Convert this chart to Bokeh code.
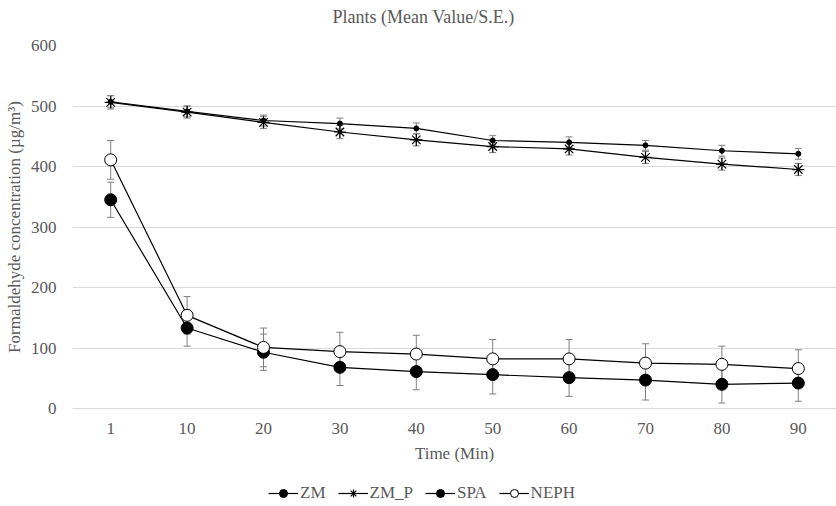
from bokeh.plotting import figure
from bokeh.layouts import column
from bokeh.models import (ColumnDataSource, Range1d, FixedTicker, Whisker, TeeHead,
                          Legend, LegendItem, Label)
from bokeh.embed import file_html
from bokeh.resources import INLINE

times = ["1", "10", "20", "30", "40", "50", "60", "70", "80", "90"]

zm = [507, 491, 476, 471, 463, 443, 440, 435, 426, 421]
zm_se = [10, 9, 9, 9, 9, 8, 9, 8, 9, 9]
zm_p = [506, 490, 473, 457, 444, 433, 429, 415, 404, 395]
zm_p_se = [11, 10, 10, 11, 10, 10, 10, 10, 10, 10]
spa = [345, 133, 93, 68, 61, 56, 51, 47, 40, 42]
spa_se = [29, 30, 30, 30, 30, 32, 31, 33, 31, 30]
neph = [411, 154, 101, 94, 90, 82, 82, 75, 73, 66]
neph_se = [32, 31, 32, 32, 31, 32, 32, 32, 30, 31]

title = "Plants (Mean Value/S.E.)"
x_label = "Time (Min)"
y_label = "Formaldehyde concentration (µg/m³)"
y_ticks = [0, 100, 200, 300, 400, 500, 600]
series_names = ["ZM", "ZM_P", "SPA", "NEPH"]

FONT = "Liberation Serif"
GREY = "#595959"
FS = "17px"
W = 836


def bare(height):
    f = figure(width=W, height=height, x_range=Range1d(0, 1), y_range=Range1d(0, 1),
               output_backend="svg", toolbar_location=None,
               x_axis_type=None, y_axis_type=None,
               min_border=0)
    f.outline_line_color = None
    f.grid.visible = False
    return f


# --- title strip (its frame is aligned with the main frame, 72px in) ---
top = bare(37)
top.add_layout(Label(x=351, y=21, x_units="screen", y_units="screen", text=title,
                     text_align="center", text_baseline="middle",
                     text_font=FONT, text_font_size="18px", text_color=GREY))

# --- main chart ---
p = figure(x_range=times, y_range=Range1d(0, 600),
           frame_width=764, frame_height=363,
           output_backend="svg", toolbar_location=None,
           min_border_left=72, min_border_right=0, min_border_top=8,
           min_border_bottom=60)
p.outline_line_color = None
p.xgrid.grid_line_color = None
p.ygrid.grid_line_color = "#d9d9d9"
p.yaxis.ticker = FixedTicker(ticks=y_ticks)
for ax in (p.xaxis[0], p.yaxis[0]):
    ax.major_tick_line_color = None
    ax.minor_tick_line_color = None
    ax.major_label_text_font = FONT
    ax.major_label_text_font_size = FS
    ax.major_label_text_color = GREY
    ax.axis_label_text_font = FONT
    ax.axis_label_text_font_size = FS
    ax.axis_label_text_font_style = "normal"
    ax.axis_label_text_color = GREY
p.yaxis.axis_line_color = None
p.xaxis.axis_line_color = "#d9d9d9"
p.yaxis.axis_label = y_label
p.xaxis.axis_label = x_label
p.yaxis.major_label_standoff = 10
p.xaxis.major_label_standoff = 8
p.xaxis.axis_label_standoff = 7
p.yaxis.axis_label_standoff = 4

styles = [
    dict(marker="circle", size=5, fill_color="black", line_color="black"),
    dict(marker="asterisk", size=12, line_color="black", line_width=1.2),
    dict(marker="circle", size=12, fill_color="black", line_color="black"),
    dict(marker="circle", size=12, fill_color="white", line_color="black", line_width=1),
]
values = [zm, zm_p, spa, neph]
errors = [zm_se, zm_p_se, spa_se, neph_se]

for vals, se, mk in zip(values, errors, styles):
    src = ColumnDataSource(dict(x=times, y=vals,
                                up=[v + s for v, s in zip(vals, se)],
                                lo=[v - s for v, s in zip(vals, se)]))
    w = Whisker(base="x", upper="up", lower="lo", source=src,
                line_color="#7f7f7f", line_width=1, level="underlay",
                upper_head=TeeHead(size=7, line_color="#7f7f7f", line_width=1),
                lower_head=TeeHead(size=7, line_color="#7f7f7f", line_width=1))
    p.add_layout(w)
    p.line("x", "y", source=src, line_color="black", line_width=1.2)
    p.scatter("x", "y", source=src, **mk)

# --- legend strip (legend swatches use off-range proxy renderers) ---
leg = bare(38)
items = []
for name, mk in zip(series_names, styles):
    proxy = ColumnDataSource(dict(x=[-10, -11], y=[-10, -11]))
    ln = leg.line("x", "y", source=proxy, line_color="black", line_width=1.2)
    sc = leg.scatter("x", "y", source=proxy, **mk)
    items.append(LegendItem(label=name, renderers=[ln, sc]))
legend = Legend(items=items, orientation="horizontal", location=(196, 3),
                label_text_font=FONT, label_text_font_size=FS,
                label_text_color=GREY, glyph_width=30, glyph_height=20,
                label_standoff=2, spacing=12, padding=0, margin=0,
                border_line_color=None, background_fill_alpha=0)
leg.add_layout(legend, "center")

open("out.html", "w").write(file_html(column(top, p, leg, spacing=0), INLINE))
